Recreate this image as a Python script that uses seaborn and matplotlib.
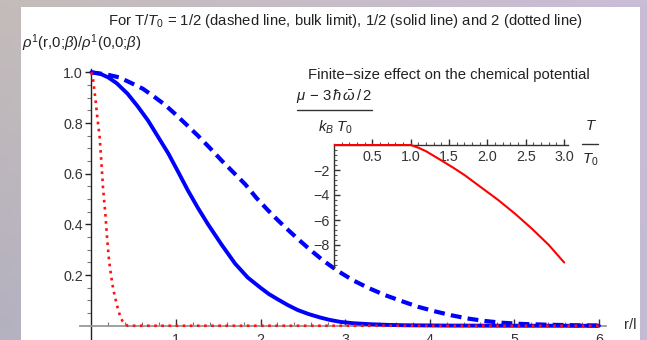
import matplotlib
matplotlib.use("Agg")
import matplotlib.pyplot as plt
import seaborn as sns
import numpy as np
import pandas as pd
from matplotlib.lines import Line2D
from matplotlib.patches import Rectangle
from matplotlib.ticker import FixedLocator

# ---------------- data ----------------
r_solid = [0, 0.1, 0.2, 0.3, 0.43, 0.55, 0.67, 0.79, 0.91, 1.03, 1.14, 1.26, 1.38, 1.54, 1.7, 1.85,
           2.0, 2.1, 2.2, 2.32, 2.44, 2.57, 2.7, 2.82, 2.95, 3.1, 3.3, 3.5, 3.7, 4.2, 5.0, 6.0]
v_solid = [1.0, 0.995, 0.98, 0.957, 0.915, 0.865, 0.81, 0.745, 0.68, 0.605, 0.535, 0.465, 0.40, 0.32,
           0.245, 0.19, 0.15, 0.125, 0.105, 0.082, 0.062, 0.046, 0.033, 0.023, 0.015, 0.010, 0.006,
           0.0035, 0.002, 0.0007, 0.0001, 0.0]

r_dashed = [0, 0.2, 0.33, 0.47, 0.61, 0.75, 0.87, 0.99, 1.12, 1.26, 1.4, 1.54, 1.68, 1.82, 1.95, 2.09,
            2.2, 2.31, 2.45, 2.6, 2.75, 2.91, 3.09, 3.27, 3.47, 3.67, 3.86, 4.06, 4.26, 4.46, 4.65,
            4.85, 5.1, 5.4, 5.7, 6.0]
v_dashed = [1.0, 0.99, 0.98, 0.958, 0.935, 0.902, 0.872, 0.836, 0.795, 0.75, 0.702, 0.652, 0.605,
            0.558, 0.505, 0.455, 0.418, 0.383, 0.34, 0.296, 0.255, 0.217, 0.18, 0.15, 0.121, 0.097,
            0.075, 0.057, 0.041, 0.028, 0.019, 0.012, 0.007, 0.004, 0.002, 0.001]

r_dotted = [0, 0.02, 0.047, 0.071, 0.099, 0.118, 0.138, 0.166, 0.189, 0.21, 0.235, 0.26, 0.30, 0.34,
            0.37, 0.40, 0.43, 6.0]
v_dotted = [1.0, 0.974, 0.90, 0.823, 0.744, 0.652, 0.547, 0.442, 0.337, 0.258, 0.195, 0.143, 0.085,
            0.038, 0.018, 0.007, 0.0, 0.0]

t_inset = [0, 1.0, 1.1, 1.2, 1.39, 1.55, 1.7, 1.92, 2.14, 2.36, 2.58, 2.8, 3.0]
mu_inset = [0, 0, -0.22, -0.5, -1.2, -1.8, -2.4, -3.4, -4.4, -5.5, -6.7, -8.0, -9.4]

x_ticks = [1, 2, 3, 4, 5, 6]
y_ticks = [0.2, 0.4, 0.6, 0.8, 1.0]
ix_ticks = [0.5, 1.0, 1.5, 2.0, 2.5, 3.0]
iy_ticks = [-2, -4, -6, -8]

title = "For T/$T_0$ = 1/2 (dashed line, bulk limit), 1/2 (solid line) and 2 (dotted line)"
ylabel = r"$\rho^1$(r,0;$\beta$)/$\rho^1$(0,0;$\beta$)"
inset_title = "Finite\u2212size effect on the chemical potential"

# ---------------- style ----------------
sns.set_style("white")
plt.rcParams["font.family"] = ["Liberation Sans", "DejaVu Sans"]
plt.rcParams["mathtext.fontset"] = "custom"
plt.rcParams["mathtext.rm"] = "Liberation Sans"
plt.rcParams["mathtext.it"] = "Liberation Sans:italic"
plt.rcParams["mathtext.bf"] = "Liberation Sans:bold"

W, H = 647, 340
fig = plt.figure(figsize=(W / 100, H / 100), dpi=100)

# soft gradient frame behind the white page
bg = fig.add_axes([0, 0, 1, 1], zorder=-100)
gx = np.linspace(0, 1, 64)[None, :, None]
gy = np.linspace(0, 1, 32)[:, None, None]
c_tl = np.array([196, 188, 186]) / 255
c_tr = np.array([202, 188, 214]) / 255
c_bl = np.array([180, 177, 192]) / 255
c_br = np.array([196, 186, 212]) / 255
grad = (c_tl * (1 - gx) * (1 - gy) + c_tr * gx * (1 - gy) + c_bl * (1 - gx) * gy + c_br * gx * gy)
bg.imshow(grad, aspect="auto", extent=(0, 1, 0, 1), origin="upper", interpolation="bilinear")
bg.set_axis_off()
fig.patches.append(Rectangle((21 / W, 0), (640 - 21) / W, 1 - 7 / H, transform=fig.transFigure,
                             facecolor="white", edgecolor="none", zorder=-10))

def fx(px):
    return px / W

def fy(py):
    return 1 - py / H

TXT = 10.7
TICK = 10.3

# ---------------- main axes ----------------
ax = fig.add_axes([0.1241, -0.0103, 0.8121, 0.8088])
ax.patch.set_visible(False)

solid_df = pd.DataFrame({"r": r_solid, "v": v_solid})
dashed_df = pd.DataFrame({"r": r_dashed, "v": v_dashed})
dotted_df = pd.DataFrame({"r": r_dotted, "v": v_dotted})

sns.lineplot(data=dotted_df, x="r", y="v", ax=ax, color="#ff1010", linewidth=1.9,
             linestyle=(0, (1.0, 1.7)), sort=False, estimator=None, zorder=5)
ax.lines[-1].set_dash_capstyle("butt")
sns.lineplot(data=dashed_df, x="r", y="v", ax=ax, color="#0000ff", linewidth=3.0,
             linestyle=(0, (2.6, 1.5)), sort=False, estimator=None, zorder=4)
ax.lines[-1].set_dash_capstyle("butt")
sns.lineplot(data=solid_df, x="r", y="v", ax=ax, color="#0000ff", linewidth=2.8,
             sort=False, estimator=None, zorder=4)
ax.lines[-1].set_solid_joinstyle("round")

ax.set_xlim(-0.13, 6.08)
ax.set_ylim(-0.07, 1.015)
ax.set_xlabel("")
ax.set_ylabel("")

for s in ["top", "right"]:
    ax.spines[s].set_visible(False)
ax.spines["left"].set_position(("data", 0))
ax.spines["bottom"].set_position(("data", 0))
ax.spines["left"].set_color("#222222")
ax.spines["left"].set_linewidth(1.0)
ax.spines["bottom"].set_color("#999999")
ax.spines["bottom"].set_linewidth(1.3)
ax.spines["bottom"].set_zorder(3)

ax.set_xticks(x_ticks)
ax.set_xticklabels([str(t) for t in x_ticks])
ax.set_yticks(y_ticks)
ax.set_yticklabels([f"{t:.1f}" for t in y_ticks])
ax.xaxis.set_minor_locator(FixedLocator([v for v in np.arange(0.2, 6.01, 0.2) if abs(v - round(v)) > 1e-6]))
ax.yaxis.set_minor_locator(FixedLocator([v for v in np.arange(0.05, 1.001, 0.05) if abs(v * 5 - round(v * 5)) > 1e-6]))
ax.tick_params(axis="both", which="both", bottom=True, left=True, top=False, right=False)
ax.tick_params(axis="x", which="major", direction="in", length=5, width=1.0, color="#333333",
               labelsize=TICK, labelcolor="#333333", pad=5)
ax.tick_params(axis="x", which="minor", direction="in", length=3, width=0.8, color="#777777")
ax.tick_params(axis="y", which="major", direction="out", length=4, width=1.0, color="#222222",
               labelsize=TICK, labelcolor="#333333", pad=2)
ax.tick_params(axis="y", which="minor", direction="out", length=3, width=0.8, color="#777777")

# ---------------- inset axes ----------------
ax2 = fig.add_axes([fx(334), fy(268.25), 234 / W, (268.25 - 143.5) / H])
ax2.patch.set_visible(False)
inset_df = pd.DataFrame({"T": t_inset, "mu": mu_inset})
sns.lineplot(data=inset_df, x="T", y="mu", ax=ax2, color="#ff0000", linewidth=1.5,
             sort=False, estimator=None, zorder=5)
ax2.set_xlim(0, 3.05)
ax2.set_ylim(-9.86, 0.12)
ax2.set_xlabel("")
ax2.set_ylabel("")
for s in ["top", "right"]:
    ax2.spines[s].set_visible(False)
ax2.spines["left"].set_position(("data", 0))
ax2.spines["bottom"].set_position(("data", 0))
ax2.spines["left"].set_color("#333333")
ax2.spines["bottom"].set_color("#333333")
ax2.spines["left"].set_linewidth(1.0)
ax2.spines["bottom"].set_linewidth(1.0)
ax2.set_xticks(ix_ticks)
ax2.set_xticklabels([f"{t:.1f}" for t in ix_ticks])
ax2.set_yticks(iy_ticks)
ax2.set_yticklabels([f"\u2212{abs(t)}" for t in iy_ticks])
ax2.xaxis.set_minor_locator(FixedLocator([v for v in np.arange(0.1, 3.01, 0.1) if abs(v * 2 - round(v * 2)) > 1e-6]))
ax2.yaxis.set_minor_locator(FixedLocator([-v for v in np.arange(0.4, 9.81, 0.4) if abs(v / 2 - round(v / 2)) > 1e-6]))
ax2.tick_params(axis="both", which="both", bottom=True, left=True, top=False, right=False)
ax2.tick_params(axis="x", which="major", direction="in", length=4.5, width=1.0, color="#333333",
                labelsize=TICK, labelcolor="#333333", pad=3.5)
ax2.tick_params(axis="x", which="minor", direction="in", length=2.5, width=0.8, color="#555555")
ax2.tick_params(axis="y", which="major", direction="in", length=4.5, width=1.0, color="#333333",
                labelsize=TICK, labelcolor="#333333", pad=3)
ax2.tick_params(axis="y", which="minor", direction="in", length=2.5, width=0.8, color="#555555")

# ---------------- texts ----------------
fig.text(fx(345), fy(21), title, ha="center", va="center", fontsize=TXT, color="#222222")
fig.text(fx(22), fy(43), ylabel, ha="left", va="center", fontsize=TXT, color="#222222")
fig.text(fx(630), fy(325), "r/l", ha="center", va="center", fontsize=TXT, color="#333333")
fig.text(fx(449), fy(75), inset_title, ha="center", va="center", fontsize=TXT, color="#222222")
fig.text(fx(334.5), fy(96), r"$\mu\,-\,3\,\hbar\,\bar{\omega}\,/\,2$", ha="center", va="center",
         fontsize=TXT, color="#222222")
fig.lines.append(Line2D([fx(297), fx(372)], [fy(110), fy(110)], transform=fig.transFigure,
                        color="#333333", linewidth=1.0))
fig.text(fx(335), fy(127), r"$k_B\;T_0$", ha="center", va="center", fontsize=TXT, color="#222222")
fig.text(fx(591), fy(126), r"$T$", ha="center", va="center", fontsize=TXT, color="#222222")
fig.lines.append(Line2D([fx(582), fx(598)], [fy(144), fy(144)], transform=fig.transFigure,
                        color="#333333", linewidth=1.0))
fig.text(fx(590), fy(160), r"$T_0$", ha="center", va="center", fontsize=TXT, color="#222222")

fig.savefig("out.png", dpi=100)
